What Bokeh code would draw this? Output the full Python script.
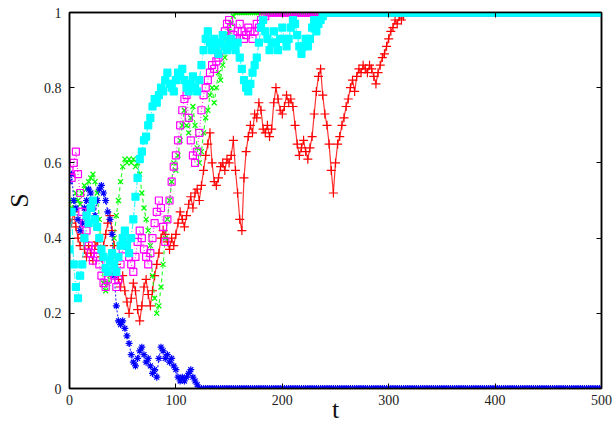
from bokeh.plotting import figure
from bokeh.models import Range1d, LinearAxis, FixedTicker
from bokeh.embed import file_html
from bokeh.resources import INLINE

T_MAX = 500
T_STEP = 2
x_ticks = [0, 100, 200, 300, 400, 500]
y_ticks = [0, 0.2, 0.4, 0.6, 0.8, 1]
y_tick_labels = {0: "0", 0.2: "0.2", 0.4: "0.4", 0.6: "0.6", 0.8: "0.8", 1: "1"}
x_label = "t"
y_label = "S"

# values read at t = 0, 2, 4, ... until absorption (last value = absorbing state)
red = [0.45, 0.44, 0.47, 0.43, 0.40, 0.38, 0.41, 0.37, 0.35, 0.38, 0.36, 0.34, 0.38, 0.39, 0.37, 0.35,
       0.38, 0.41, 0.44, 0.46, 0.42, 0.38, 0.33, 0.29, 0.27, 0.30, 0.26, 0.23, 0.20, 0.24, 0.28, 0.26,
       0.21, 0.18, 0.22, 0.27, 0.29, 0.25, 0.22, 0.26, 0.30, 0.33, 0.36, 0.40, 0.42, 0.41, 0.39, 0.37,
       0.40, 0.38, 0.41, 0.44, 0.47, 0.45, 0.43, 0.46, 0.49, 0.51, 0.48, 0.52, 0.53, 0.50, 0.54, 0.58,
       0.62, 0.65, 0.68, 0.60, 0.55, 0.54, 0.56, 0.59, 0.60, 0.58, 0.61, 0.60, 0.62, 0.66, 0.58, 0.52,
       0.45, 0.42, 0.56, 0.63, 0.67, 0.70, 0.68, 0.73, 0.72, 0.76, 0.74, 0.69, 0.68, 0.70, 0.67, 0.69,
       0.76, 0.80, 0.77, 0.74, 0.73, 0.75, 0.78, 0.76, 0.77, 0.75, 0.70, 0.65, 0.62, 0.64, 0.66, 0.63,
       0.61, 0.64, 0.67, 0.73, 0.79, 0.83, 0.85, 0.78, 0.73, 0.70, 0.65, 0.58, 0.52, 0.60, 0.65, 0.67,
       0.70, 0.72, 0.75, 0.77, 0.80, 0.82, 0.79, 0.83, 0.85, 0.84, 0.86, 0.85, 0.84, 0.86, 0.85, 0.83,
       0.81, 0.84, 0.86, 0.88, 0.89, 0.91, 0.93, 0.95, 0.96, 0.98, 0.97, 0.99, 0.98, 0.99, 1.0]

green = [0.50, 0.48, 0.50, 0.52, 0.50, 0.49, 0.52, 0.54, 0.53, 0.55, 0.56, 0.57, 0.55, 0.52, 0.45, 0.35,
         0.28, 0.26, 0.28, 0.30, 0.34, 0.40, 0.46, 0.50, 0.55, 0.59, 0.61, 0.60, 0.61, 0.60, 0.61, 0.59,
         0.60, 0.57, 0.52, 0.48, 0.45, 0.42, 0.38, 0.30, 0.24, 0.20, 0.22, 0.27, 0.33, 0.40, 0.45, 0.50,
         0.55, 0.60, 0.58, 0.62, 0.66, 0.70, 0.74, 0.70, 0.68, 0.72, 0.75, 0.70, 0.64, 0.60, 0.63, 0.68,
         0.72, 0.74, 0.78, 0.80, 0.76, 0.80, 0.84, 0.82, 0.86, 0.88, 0.93, 0.95, 0.97, 0.99, 1.0]

blue = [0.55, 0.57, 0.50, 0.48, 0.45, 0.42, 0.44, 0.48, 0.50, 0.53, 0.52, 0.48, 0.46, 0.50, 0.53, 0.54,
        0.52, 0.50, 0.47, 0.45, 0.41, 0.30, 0.22, 0.18, 0.17, 0.18, 0.16, 0.14, 0.12, 0.09, 0.07, 0.06,
        0.08, 0.10, 0.11, 0.09, 0.07, 0.08, 0.06, 0.04, 0.05, 0.03, 0.08, 0.11, 0.10, 0.08, 0.09, 0.07,
        0.08, 0.06, 0.05, 0.03, 0.02, 0.03, 0.02, 0.03, 0.04, 0.05, 0.03, 0.02, 0.01, 0.0]

magenta = [0.58, 0.56, 0.60, 0.63, 0.57, 0.52, 0.47, 0.44, 0.42, 0.38, 0.36, 0.34, 0.37, 0.35, 0.33, 0.30,
           0.28, 0.27, 0.29, 0.31, 0.34, 0.30, 0.27, 0.29, 0.33, 0.37, 0.40, 0.38, 0.35, 0.33, 0.31, 0.35,
           0.39, 0.42, 0.40, 0.37, 0.35, 0.33, 0.36, 0.40, 0.44, 0.47, 0.50, 0.48, 0.43, 0.39, 0.45, 0.50,
           0.55, 0.59, 0.62, 0.66, 0.70, 0.74, 0.77, 0.78, 0.72, 0.66, 0.62, 0.60, 0.63, 0.68, 0.74, 0.78,
           0.80, 0.82, 0.84, 0.86, 0.85, 0.87, 0.88, 0.90, 0.92, 0.95, 0.97, 0.98, 0.96, 0.94, 0.93, 0.95,
           0.97, 0.95, 0.93, 0.94, 0.96, 0.95, 0.93, 0.95, 0.97, 0.96, 0.98, 0.99, 0.99, 1.0]

cyan = [0.37, 0.47, 0.33, 0.27, 0.24, 0.30, 0.33, 0.40, 0.46, 0.44, 0.48, 0.50, 0.45, 0.43, 0.40, 0.37,
        0.35, 0.32, 0.31, 0.34, 0.36, 0.33, 0.31, 0.35, 0.38, 0.40, 0.42, 0.38, 0.36, 0.40, 0.45, 0.51,
        0.56, 0.61, 0.63, 0.66, 0.67, 0.70, 0.72, 0.75, 0.77, 0.76, 0.78, 0.80, 0.79, 0.82, 0.84, 0.81,
        0.80, 0.79, 0.82, 0.84, 0.83, 0.85, 0.82, 0.80, 0.79, 0.81, 0.83, 0.80, 0.79, 0.82, 0.86, 0.90,
        0.93, 0.95, 0.92, 0.90, 0.93, 0.91, 0.89, 0.92, 0.94, 0.91, 0.90, 0.92, 0.93, 0.91, 0.90, 0.92,
        0.88, 0.85, 0.82, 0.80, 0.79, 0.81, 0.84, 0.86, 0.88, 0.92, 0.96, 0.98, 0.95, 0.93, 0.90, 0.92,
        0.95, 0.92, 0.90, 0.93, 0.96, 0.93, 0.91, 0.93, 0.96, 0.98, 0.97, 0.94, 0.91, 0.89, 0.91, 0.93,
        0.91, 0.93, 0.96, 0.98, 0.95, 0.97, 0.98, 0.99, 1.0]


def full_series(vals):
    t = list(range(0, len(vals) * T_STEP, T_STEP))
    tail_t = list(range(t[-1] + T_STEP, T_MAX + 1, T_STEP))
    return t + tail_t, vals + [vals[-1]] * len(tail_t)


p = figure(width=613, height=429, x_range=Range1d(0, 500), y_range=Range1d(0, 1),
           output_backend="svg", toolbar_location=None,
           min_border_left=69, min_border_right=12, min_border_top=12, min_border_bottom=41)
p.grid.visible = False
p.outline_line_color = "black"
p.outline_line_width = 1.5
p.background_fill_color = "white"
p.border_fill_color = "white"

FONT = "Liberation Serif"

for ax in (p.xaxis[0], p.yaxis[0]):
    ax.major_tick_in = 5
    ax.major_tick_out = 0
    ax.minor_tick_line_color = None
    ax.axis_line_color = "black"
    ax.axis_line_width = 1.5
    ax.major_label_text_font = FONT
    ax.major_label_text_font_size = "14px"
    ax.major_label_text_color = "#222222"
    ax.axis_label_text_font = FONT
    ax.axis_label_text_font_size = "26px"
    ax.axis_label_text_font_style = "normal"
    ax.axis_label_text_color = "#111111"
p.xaxis.ticker = FixedTicker(ticks=x_ticks)
p.yaxis.ticker = FixedTicker(ticks=y_ticks)
p.yaxis.major_label_overrides = y_tick_labels
p.xaxis.major_label_standoff = 6
p.yaxis.major_label_standoff = 8
p.xaxis.axis_label = x_label
p.yaxis.axis_label = y_label
p.xaxis.axis_label_standoff = -13
p.yaxis.axis_label_standoff = 7

for loc, ticks in (("right", y_ticks), ("above", x_ticks)):
    ax = LinearAxis(ticker=FixedTicker(ticks=ticks), major_label_text_font_size="1px",
                    major_label_text_color=None, major_label_standoff=0,
                    major_tick_in=5, major_tick_out=0,
                    minor_tick_line_color=None, axis_line_color="black", axis_line_width=1.5)
    p.add_layout(ax, loc)

styles = [
    (red, "#ff0000", "solid", "cross", 9, None),
    (green, "#00ff00", "4 3", "x", 7, None),
    (blue, "#0000ff", "2 2", "asterisk", 7, None),
    (magenta, "#ff00ff", "1 2", "square", 7, None),
    (cyan, "#00ffff", "6 2 1 2", "square", 7, "#00ffff"),
]

for vals, color, dash, marker, size, fill in styles:
    t, s = full_series(vals)
    p.line(t, s, line_color=color, line_width=1.2, line_dash=dash, line_alpha=0.8)
    p.scatter(t, s, marker=marker, size=size, line_color=color, line_width=1.2,
              fill_color=fill, fill_alpha=1.0 if fill else 0.0)

open("out.html", "w").write(file_html(p, INLINE))
